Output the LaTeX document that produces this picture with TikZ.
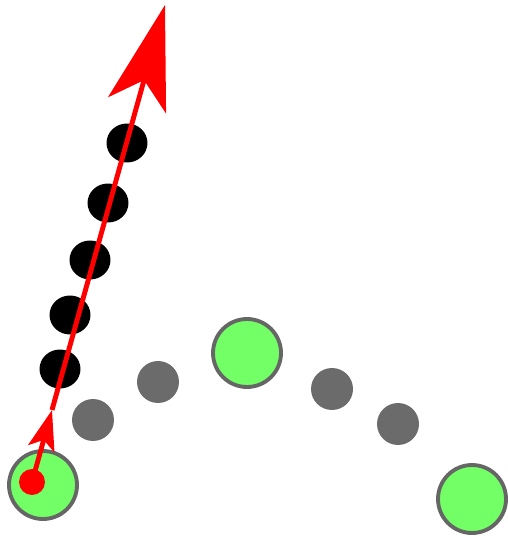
\documentclass[tikz,border=0pt]{standalone}
\usepackage{xcolor}
\usepackage{tikz}
\usetikzlibrary{shapes.geometric, arrows.meta}
\definecolor{ptgreen}{HTML}{73FF66}
\definecolor{ptrim}{HTML}{666666}
\definecolor{ptgray}{HTML}{6B6B6B}
\definecolor{vecred}{HTML}{FF0000}

\begin{document}
\begin{tikzpicture}[
  x=0.02cm, y=-0.02cm,
  anchorpt/.style={circle, draw=ptrim, fill=ptgreen, line width=2.2pt, minimum size=1.36cm, inner sep=0pt},
  midpt/.style={circle, fill=ptgray, minimum size=0.84cm, inner sep=0pt},
  trace/.style={ellipse, fill=black, minimum width=0.82cm, minimum height=0.78cm, inner sep=0pt},
  origin/.style={circle, fill=vecred, minimum size=0.52cm, inner sep=0pt},
  vec/.style={vecred, line width=2.8pt}
]
\useasboundingbox (0,0) rectangle (507,540);
\node[anchorpt] (g1) at (43,485) {};
\node[anchorpt] (g2) at (247,353) {};
\node[anchorpt] (g3) at (472,499) {};

\node[midpt] (d1) at (93,420) {};
\node[midpt] (d2) at (158,382) {};
\node[midpt] (d3) at (332,389) {};
\node[midpt] (d4) at (398,424) {};

\node[trace] (b1) at (60,369) {};
\node[trace] (b2) at (70,315) {};
\node[trace] (b3) at (90,260) {};
\node[trace] (b4) at (108,203) {};
\node[trace] (b5) at (127,143) {};

\node[origin] (src) at (32,482) {};
\coordinate (mid) at (52,410);
\coordinate (tip) at (165,5);
\draw[vec, -{Stealth[length=0.8cm, width=0.54cm, inset=0.18cm]}] (src.center) -- (mid);
\draw[vec, -{Stealth[length=2.08cm, width=1.2cm, inset=0.52cm]}] (mid) -- (tip);
\end{tikzpicture}
\end{document}
